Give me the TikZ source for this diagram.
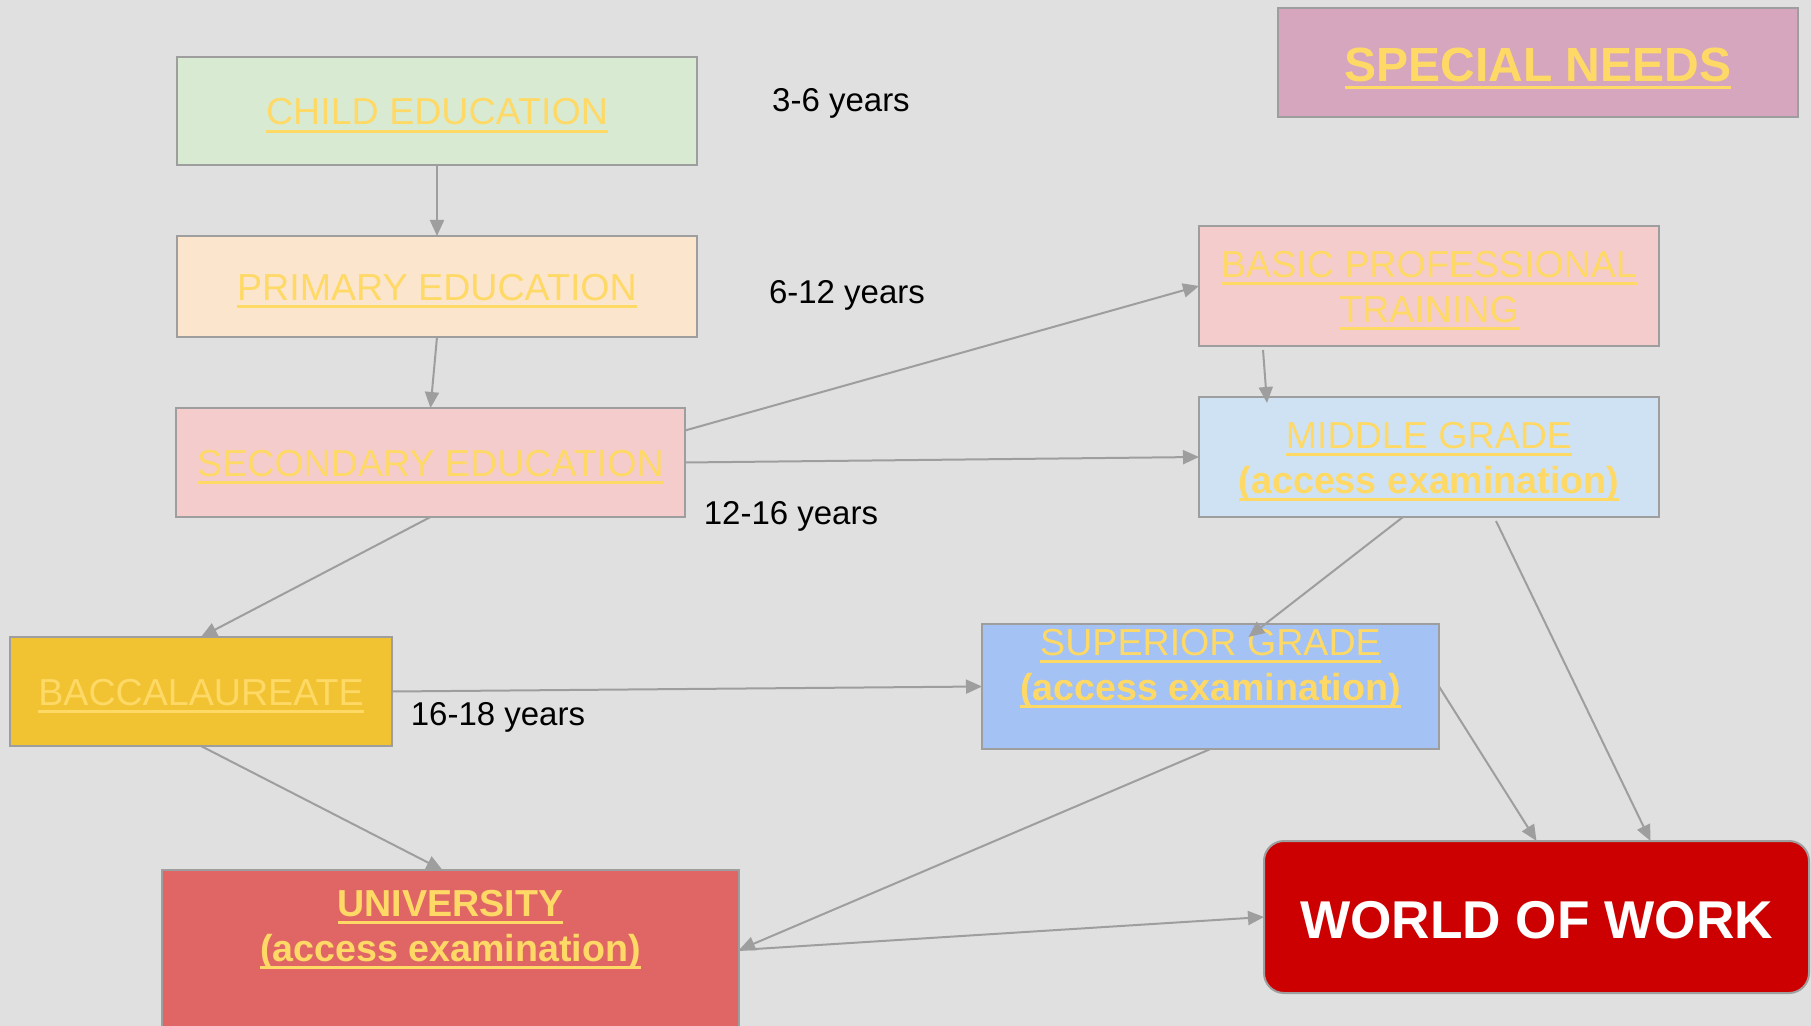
\documentclass[tikz,border=0pt]{standalone}
\usepackage{fontspec}
\setmainfont{Liberation Sans}
\usepackage{tikz}
\usetikzlibrary{arrows.meta}
\newcommand{\linkul}[1]{\setbox0\hbox{#1}\rule{0pt}{0.95em}\rlap{\rule[-4pt]{\wd0}{1.5pt}}\box0}

\definecolor{bgc}{HTML}{E0E0E0}
\definecolor{edge}{HTML}{9E9E9E}
\definecolor{gold}{HTML}{FFD966}
\definecolor{childc}{HTML}{D9EAD3}
\definecolor{primc}{HTML}{FCE5CD}
\definecolor{secc}{HTML}{F4CCCC}
\definecolor{baccc}{HTML}{F1C232}
\definecolor{unic}{HTML}{E06666}
\definecolor{specc}{HTML}{D5A6BD}
\definecolor{midc}{HTML}{CFE2F3}
\definecolor{supc}{HTML}{A4C2F4}
\definecolor{workc}{HTML}{CC0000}

\begin{document}
\begin{tikzpicture}[x=0.5pt,y=-0.5pt]
			\fill[bgc] (0,0) rectangle (1811,1026);
			\useasboundingbox (0,0) rectangle (1811,1026);
			\tikzstyle{box}=[rectangle,draw=edge,line width=1pt,inner sep=0pt,outer sep=0pt,align=center,text=gold,font=\fontsize{18.8}{22.5}\selectfont]
			\tikzstyle{years}=[font=\fontsize{16.5}{20}\selectfont,inner sep=0pt]
			\tikzstyle{arr}=[draw=edge,line width=1pt,-{Triangle[length=8pt,width=7pt]}]
			% left column
			\node[box,fill=childc,minimum width=260pt,minimum height=54pt] (child) at (437,111) {\linkul{CHILD EDUCATION}};
			\node[box,fill=primc,minimum width=260pt,minimum height=50.5pt] (prim) at (437,286.5) {\linkul{PRIMARY EDUCATION}};
			\node[box,fill=secc,minimum width=254.5pt,minimum height=54.5pt] (sec) at (430.5,462.5) {\linkul{SECONDARY EDUCATION}};
			\node[box,fill=baccc,minimum width=191pt,minimum height=54.5pt] (bacc) at (201,691.5) {\linkul{BACCALAUREATE}};
			\node[box,fill=unic,minimum width=288.5pt,minimum height=80pt] (uni) at (450.5,950) {};
			\node[box,draw=none,anchor=north,yshift=-5.2pt] (unitext) at (uni.north) {\linkul{\textbf{UNIVERSITY}}\\\linkul{\textbf{(access examination)}}};
			% right column
			\node[box,fill=specc,minimum width=260pt,minimum height=54.5pt,font=\fontsize{24}{28}\selectfont\bfseries] (spec) at (1538,62.5) {\linkul{SPECIAL NEEDS}};
			\node[box,fill=secc,minimum width=230pt,minimum height=60pt] (basic) at (1429,286) {\linkul{BASIC PROFESSIONAL}\\\linkul{TRAINING}};
			\node[box,fill=midc,minimum width=230pt,minimum height=60pt] (mid) at (1429,457) {\linkul{MIDDLE GRADE}\\\linkul{\textbf{(access examination)}}};
			\node[box,fill=supc,minimum width=228.5pt,minimum height=62.5pt] (sup) at (1210.5,686.5) {};
			\node[box,draw=none,anchor=north,yshift=2.3pt] (suptext) at (sup.north) {\linkul{SUPERIOR GRADE}\\\linkul{\textbf{(access examination)}}};
			\node[box,fill=workc,rounded corners=10pt,minimum width=272.5pt,minimum height=76pt,text=white,font=\fontsize{26.6}{30}\selectfont\bfseries] (work) at (1536.5,917) {\rule{0pt}{0.8em}WORLD OF WORK};
			% ages
			\node[years] (y3) at (841,103) {3-6 years};
			\node[years] (y6) at (847,295) {6-12 years};
			\node[years] (y12) at (791,516) {12-16 years};
			\node[years] (y16) at (498,717) {16-18 years};
			% paths
			\draw[arr] (child.south) -- (prim.north);
			\draw[arr] (prim.south) -- (sec.north);
			\draw[arr] ([yshift=16pt]sec.east) -- (basic.west);
			\draw[arr] (sec.east) -- (mid.west);
			\draw[arr] ([shift={(-83pt,-2pt)}]basic.south) -- ([shift={(-81pt,-3pt)}]mid.north);
			\draw[arr] (sec.south) -- (bacc.north);
			\draw[arr] ([xshift=-13pt]mid.south) -- ([shift={(19pt,-6.5pt)}]sup.north);
			\draw[arr] ([shift={(33.5pt,-2pt)}]mid.south) -- ([xshift=57pt]work.north);
			\draw[arr] (bacc.east) -- (sup.west);
			\draw[arr] (bacc.south) -- ([xshift=-4pt]uni.north);
			\draw[arr] (sup.east) -- (work.north);
			\draw[arr] (sup.south) -- (uni.east);
			\draw[arr] (uni.east) -- (work.west);
		\end{tikzpicture}
\end{document}
